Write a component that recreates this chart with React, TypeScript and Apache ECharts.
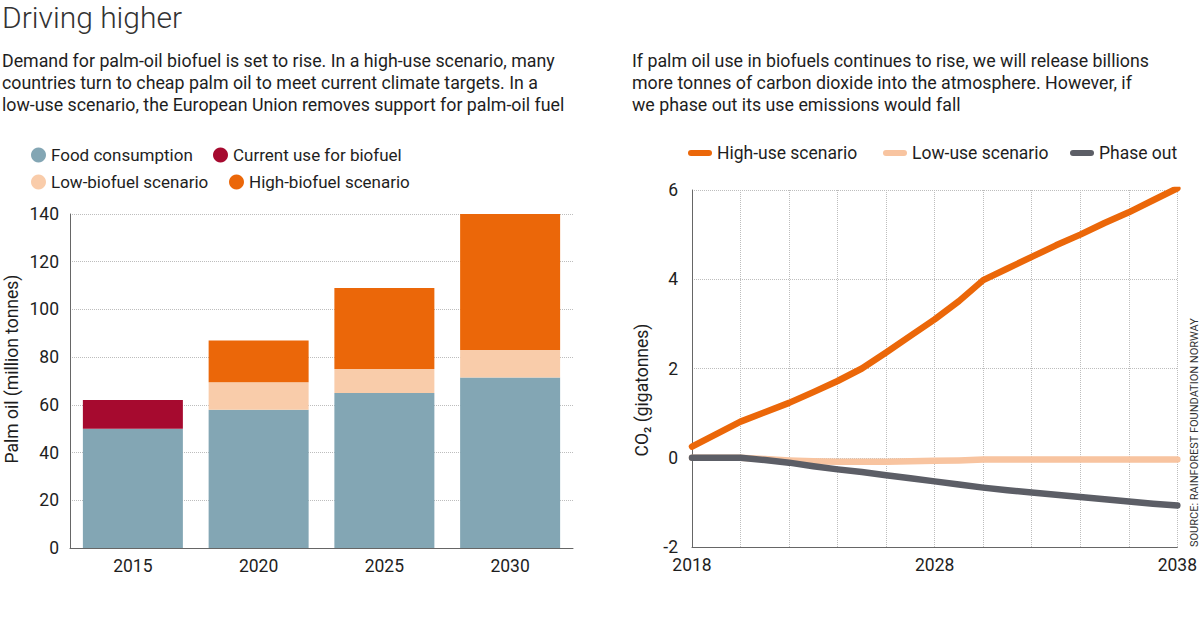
import React, { useEffect, useRef } from "react";
import * as echarts from "echarts";

const barCategories = ["2015", "2020", "2025", "2030"];
const foodConsumption = [50, 58, 65, 71.5];
const currentBiofuel = [12, null, null, null];
const lowBiofuel = [null, 11.5, 10, 11.5];
const highBiofuel = [null, 17.5, 34, 57];

const lineYears = [2018, 2019, 2020, 2021, 2022, 2023, 2024, 2025, 2026, 2027, 2028, 2029, 2030, 2031, 2032, 2033, 2034, 2035, 2036, 2037, 2038];
const highUse = [0.25, 0.53, 0.81, 1.02, 1.23, 1.47, 1.72, 2.0, 2.36, 2.73, 3.1, 3.51, 3.98, 4.24, 4.5, 4.76, 5.0, 5.26, 5.5, 5.77, 6.04];
const lowUse = [0, 0, 0, -0.03, -0.06, -0.08, -0.09, -0.09, -0.09, -0.08, -0.07, -0.06, -0.04, -0.04, -0.04, -0.04, -0.04, -0.04, -0.04, -0.04, -0.04];
const phaseOut = [0, 0, 0, -0.05, -0.11, -0.19, -0.26, -0.32, -0.39, -0.46, -0.53, -0.6, -0.67, -0.73, -0.78, -0.83, -0.88, -0.93, -0.98, -1.03, -1.07];
const lineXLabels = [2018, 2028, 2038];

const FONT = "Roboto, 'Noto Sans', sans-serif";
const TEXT = "#1e1e1e";
const C_FOOD = "#83a6b4";
const C_CURRENT = "#a60a2f";
const C_LOW = "#f9ccaa";
const C_HIGH = "#eb6709";
const C_PHASE = "#5c5e66";
const C_LOWLINE = "#f8c4a0";

const capsule = "path://M3,0L21,0A3,3,0,0,1,21,6L3,6A3,3,0,0,1,3,0Z";

export default function App() {
  const ref = useRef<HTMLDivElement>(null);
  useEffect(() => {
    document.body.style.margin = "0";
    const chart = echarts.init(ref.current!, null, { renderer: "svg" });
    const legendText = { fontSize: 17, color: TEXT, fontFamily: FONT, lineHeight: 20 };
    const circleLegend = (name: string, left: number, top: number) => ({
      data: [name], left, top, padding: 0, icon: "circle", itemWidth: 15, itemHeight: 15,
      textStyle: legendText, selectedMode: false,
    });
    const lineLegend = (name: string, left: number, top: number) => ({
      data: [name], left, top, padding: 0, icon: capsule, itemWidth: 24, itemHeight: 7,
      textStyle: { ...legendText, fontSize: 17.5 }, selectedMode: false,
    });
    const dotted = { lineStyle: { type: "dotted", color: "#bdbdbd", width: 1 } };
    const subStyle = {
      fontSize: 17.8, lineHeight: 22, fontFamily: FONT, fill: TEXT,
      textAlign: "left", textVerticalAlign: "top", align: "left", verticalAlign: "top",
    };
    const option: any = {
      animation: false,
      textStyle: { fontFamily: FONT },
      legend: [
        circleLegend("Food consumption", 31, 145),
        circleLegend("Current use for biofuel", 213, 145),
        circleLegend("Low-biofuel scenario", 31, 172),
        circleLegend("High-biofuel scenario", 229, 172),
        lineLegend("High-use scenario", 688, 143),
        lineLegend("Low-use scenario", 883, 143),
        lineLegend("Phase out", 1070, 143),
      ],
      grid: [
        { left: 70, top: 214, width: 503, height: 334 },
        { left: 692, top: 190, width: 486, height: 357 },
      ],
      xAxis: [
        {
          type: "category", gridIndex: 0, data: barCategories,
          axisLine: { lineStyle: { color: "#666" } }, axisTick: { show: false },
          axisLabel: { fontSize: 17.5, color: TEXT, margin: 9, fontFamily: FONT },
        },
        {
          type: "value", gridIndex: 1, min: 2018, max: 2038, interval: 2,
          axisLine: { onZero: false, lineStyle: { color: "#666" } }, axisTick: { show: false },
          splitLine: { show: true, ...dotted },
          axisLabel: {
            fontSize: 17.5, color: TEXT, margin: 9, fontFamily: FONT,
            formatter: (v: number) => (lineXLabels.includes(v) ? String(v) : ""),
          },
        },
      ],
      yAxis: [
        {
          type: "value", gridIndex: 0, min: 0, max: 140, interval: 20,
          axisLine: { show: true, lineStyle: { color: "#666" } }, axisTick: { show: false },
          splitLine: dotted,
          axisLabel: { fontSize: 17.5, color: TEXT, margin: 11, fontFamily: FONT },
        },
        {
          type: "value", gridIndex: 1, min: -2, max: 6, interval: 2,
          axisLine: { show: true, lineStyle: { color: "#666" } }, axisTick: { show: false },
          splitLine: dotted,
          axisLabel: { fontSize: 17.5, color: TEXT, margin: 14, fontFamily: FONT },
        },
      ],
      series: [
        { name: "Food consumption", type: "bar", stack: "p", barWidth: 100, data: foodConsumption, itemStyle: { color: C_FOOD }, xAxisIndex: 0, yAxisIndex: 0 },
        { name: "Current use for biofuel", type: "bar", stack: "p", barWidth: 100, data: currentBiofuel, itemStyle: { color: C_CURRENT }, xAxisIndex: 0, yAxisIndex: 0 },
        { name: "Low-biofuel scenario", type: "bar", stack: "p", barWidth: 100, data: lowBiofuel, itemStyle: { color: C_LOW }, xAxisIndex: 0, yAxisIndex: 0 },
        { name: "High-biofuel scenario", type: "bar", stack: "p", barWidth: 100, data: highBiofuel, itemStyle: { color: C_HIGH }, xAxisIndex: 0, yAxisIndex: 0 },
        {
          name: "High-use scenario", type: "line", xAxisIndex: 1, yAxisIndex: 1, z: 5,
          data: lineYears.map((y, i) => [y, highUse[i]]), showSymbol: false, symbol: "none",
          itemStyle: { color: C_HIGH }, lineStyle: { color: C_HIGH, width: 6.5, cap: "round", join: "round" },
        },
        {
          name: "Low-use scenario", type: "line", xAxisIndex: 1, yAxisIndex: 1, z: 3,
          data: lineYears.map((y, i) => [y, lowUse[i]]), showSymbol: false, symbol: "none",
          itemStyle: { color: C_LOWLINE }, lineStyle: { color: C_LOWLINE, width: 6.5, cap: "round", join: "round" },
        },
        {
          name: "Phase out", type: "line", xAxisIndex: 1, yAxisIndex: 1, z: 4,
          data: lineYears.map((y, i) => [y, phaseOut[i]]), showSymbol: false, symbol: "none",
          itemStyle: { color: C_PHASE }, lineStyle: { color: C_PHASE, width: 6.5, cap: "round", join: "round" },
        },
      ],
      graphic: [
        {
          type: "text", x: 2, y: 2,
          style: { text: "Driving higher", fontSize: 30, fontWeight: 300, fontFamily: FONT, fill: "#333", textAlign: "left", textVerticalAlign: "top", align: "left", verticalAlign: "top" },
        },
        {
          type: "text", x: 2, y: 49,
          style: {
            ...subStyle,
            text: "Demand for palm-oil biofuel is set to rise. In a high-use scenario, many\ncountries turn to cheap palm oil to meet current climate targets. In a\nlow-use scenario, the European Union removes support for palm-oil fuel",
          },
        },
        {
          type: "text", x: 632, y: 49,
          style: {
            ...subStyle,
            text: "If palm oil use in biofuels continues to rise, we will release billions\nmore tonnes of carbon dioxide into the atmosphere. However, if\nwe phase out its use emissions would fall",
          },
        },
        {
          type: "text", x: 12, y: 369, rotation: Math.PI / 2,
          style: { text: "Palm oil (million tonnes)", fontSize: 17.5, fontFamily: FONT, fill: TEXT, textAlign: "center", textVerticalAlign: "middle", align: "center", verticalAlign: "middle" },
        },
        {
          type: "text", x: 642, y: 390, rotation: Math.PI / 2,
          style: { text: "CO₂ (gigatonnes)", fontSize: 17.5, fontFamily: FONT, fill: TEXT, textAlign: "center", textVerticalAlign: "middle", align: "center", verticalAlign: "middle" },
        },
        {
          type: "text", x: 1194, y: 547, rotation: Math.PI / 2,
          style: { text: "SOURCE: RAINFOREST FOUNDATION NORWAY", fontSize: 11, fontFamily: FONT, fill: "#333", textAlign: "left", textVerticalAlign: "middle", align: "left", verticalAlign: "middle" },
        },
      ],
    };
    chart.setOption(option);
    return () => chart.dispose();
  }, []);
  return <div ref={ref} style={{ width: 1200, height: 641 }} />;
}
